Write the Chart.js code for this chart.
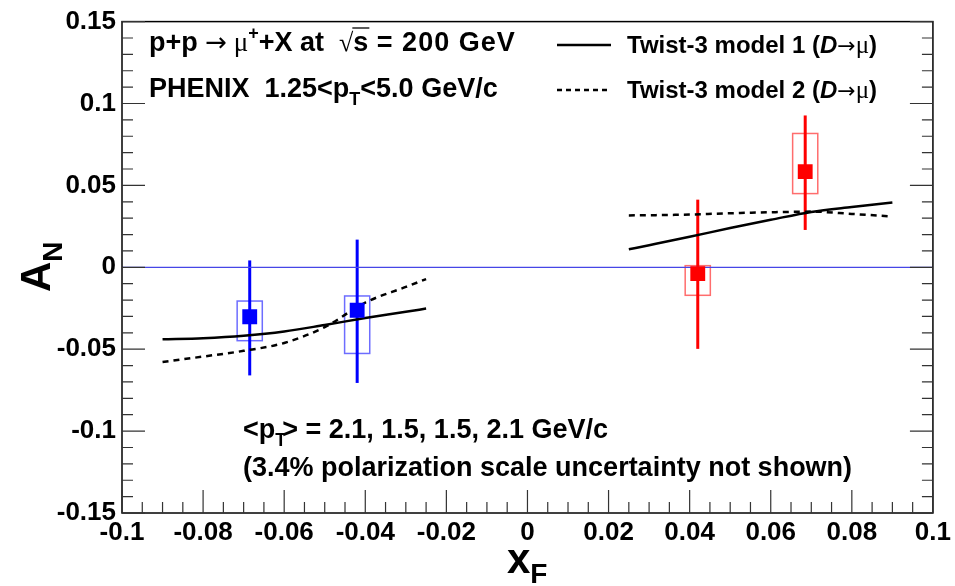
<!DOCTYPE html>
<html>
<head>
<meta charset="utf-8">
<script src="https://cdn.jsdelivr.net/npm/chart.js@4.4.1/dist/chart.umd.min.js"></script>
<style>
    html, body { margin: 0; padding: 0; background: #fff; }
</style>
</head>
<body>
<canvas id="graficoAN" width="955" height="586"></canvas>
<script>
// ============================================================
// A_N vs x_F – PHENIX mu+ (heavy flavour) with twist-3 curves
// ============================================================

// --- data points (blue = backward, red = forward) ---
const xF     = [-0.0685, -0.042, 0.042, 0.0685];
const AN     = [-0.0302, -0.0262, -0.0039, 0.0584];
const statHi = [0.0042, 0.0169, 0.0413, 0.0927];
const statLo = [-0.0660, -0.0706, -0.0498, 0.0228];
const sysHi  = [-0.0206, -0.0175, 0.0010, 0.0817];
const sysLo  = [-0.0448, -0.0526, -0.0171, 0.0450];

// --- twist-3 model curves ---
const leftX    = [-0.09, -0.08, -0.07, -0.06, -0.05, -0.04, -0.03, -0.025];
const model1L  = [-0.0440, -0.0433, -0.0418, -0.0392, -0.0352, -0.0310, -0.0272, -0.0252];
const model2L  = [-0.0578, -0.0545, -0.0510, -0.0462, -0.0365, -0.0215, -0.0120, -0.0072];
const rightX   = [0.025, 0.03, 0.04, 0.05, 0.06, 0.07, 0.08, 0.09];
const model1R  = [0.0110, 0.0135, 0.0186, 0.0240, 0.0290, 0.0338, 0.0368, 0.0395];
const model2R  = [0.0317, 0.0318, 0.0322, 0.0330, 0.0336, 0.0340, 0.0326, 0.0310];

// --- axes ---
const xTicks      = [-0.1, -0.08, -0.06, -0.04, -0.02, 0, 0.02, 0.04, 0.06, 0.08, 0.1];
const xTickLabels = ["-0.1", "-0.08", "-0.06", "-0.04", "-0.02", "0", "0.02", "0.04", "0.06", "0.08", "0.1"];
const yTicks      = [-0.15, -0.1, -0.05, 0, 0.05, 0.1, 0.15];
const yTickLabels = ["-0.15", "-0.1", "-0.05", "0", "0.05", "0.1", "0.15"];

const pts = (xs, ys) => xs.map((x, i) => ({ x: x, y: ys[i] }));

const BLUE = "rgb(0,0,255)";
const RED = "rgb(255,0,0)";
const ptColor = xF.map(x => x < 0 ? BLUE : RED);
const boxColor = xF.map(x => x < 0 ? "rgba(60,60,255,0.75)" : "rgba(255,60,60,0.75)");
const BOX_HALF = 0.0031;   // half width of systematic box in x_F units
const FONT = '"Liberation Sans", Arial, Helvetica, sans-serif';
const SERIF = '"Liberation Serif", "Times New Roman", serif';
const ARROW = '"DejaVu Sans", sans-serif';

// draws a sequence of text pieces with different fonts
function runs(ctx, x, y, parts) {
    parts.forEach(p => {
        ctx.font = p.f;
        ctx.fillText(p.t, x, y + (p.dy || 0));
        x += ctx.measureText(p.t).width + (p.dx || 0);
    });
    return x;
}

const rootStyle = {
    id: "rootStyle",
    beforeDatasetsDraw(chart) {
        const { ctx, scales: { x, y } } = chart;
        ctx.save();
        // systematic boxes
        xF.forEach((v, i) => {
            const x0 = x.getPixelForValue(v - BOX_HALF), x1 = x.getPixelForValue(v + BOX_HALF);
            const y0 = y.getPixelForValue(sysHi[i]), y1 = y.getPixelForValue(sysLo[i]);
            ctx.strokeStyle = boxColor[i];
            ctx.lineWidth = 1.5;
            ctx.strokeRect(x0, y0, x1 - x0, y1 - y0);
        });
        // statistical error bars
        xF.forEach((v, i) => {
            const px = x.getPixelForValue(v);
            ctx.strokeStyle = ptColor[i];
            ctx.lineWidth = 3;
            ctx.beginPath();
            ctx.moveTo(px, y.getPixelForValue(statHi[i]));
            ctx.lineTo(px, y.getPixelForValue(statLo[i]));
            ctx.stroke();
        });
        ctx.restore();
    },
    afterDraw(chart) {
        const { ctx, chartArea: a, scales: { x, y } } = chart;
        ctx.save();

        // frame
        ctx.strokeStyle = "#000";
        ctx.lineWidth = 1.5;
        ctx.strokeRect(a.left, a.top, a.right - a.left, a.bottom - a.top);

        // inner ticks (left, right, bottom)
        ctx.lineWidth = 1.2;
        ctx.strokeStyle = "#333";
        ctx.beginPath();
        for (let k = -15; k <= 15; k++) {
            const py = y.getPixelForValue(k / 100);
            const len = k % 5 === 0 ? 23 : 11;
            ctx.moveTo(a.left, py); ctx.lineTo(a.left + len, py);
            ctx.moveTo(a.right, py); ctx.lineTo(a.right - len, py);
        }
        for (let k = -20; k <= 20; k++) {
            const px = x.getPixelForValue(k * 0.005);
            const len = k % 4 === 0 ? 23 : 11;
            ctx.moveTo(px, a.bottom); ctx.lineTo(px, a.bottom - len);
        }
        ctx.stroke();

        ctx.fillStyle = "#000";
        ctx.textBaseline = "alphabetic";
        ctx.textAlign = "left";
        const B27 = "bold 27px " + FONT;
        const B18 = "bold 18px " + FONT;

        // top-left annotations
        let cx = runs(ctx, 149, 51, [
            { t: "p+p ", f: B27 },
            { t: "\u2192", f: "26px " + ARROW },
            { t: " \u03bc", f: "27px " + SERIF },
            { t: "+", f: B18, dy: -12 },
            { t: "+X at  ", f: B27 }
        ]);
        // sqrt(s)
        ctx.font = "26px " + SERIF;
        ctx.fillText("\u221a", cx, 51);
        cx += ctx.measureText("\u221a").width;
        ctx.font = B27;
        ctx.fillText("s", cx, 51);
        const sw = ctx.measureText("s").width;
        ctx.lineWidth = 1.3;
        ctx.strokeStyle = "#000";
        ctx.beginPath(); ctx.moveTo(cx - 1, 28); ctx.lineTo(cx + sw + 1, 28); ctx.stroke();
        ctx.save();
        ctx.letterSpacing = "1px";
        ctx.fillText(" = 200 GeV", cx + sw, 51);
        ctx.restore();

        runs(ctx, 149, 97, [
            { t: "PHENIX  1.25<p", f: B27 },
            { t: "T", f: B18, dy: 8 },
            { t: "<5.0 GeV/c", f: B27 }
        ]);

        // bottom annotations
        runs(ctx, 243, 438, [
            { t: "<p", f: B27 },
            { t: "T", f: B18, dy: 8, dx: -4 },
            { t: "> = 2.1, 1.5, 1.5, 2.1 GeV/c", f: B27 }
        ]);
        ctx.font = B27;
        ctx.fillText("(3.4% polarization scale uncertainty not shown)", 243, 476);

        // legend
        const B24 = "bold 24px " + FONT;
        const legend = [{ y: 45, dash: [] , label: "1" }, { y: 90, dash: [5, 4], label: "2" }];
        legend.forEach(l => {
            ctx.strokeStyle = "#000";
            ctx.lineWidth = 2.5;
            ctx.setLineDash(l.dash);
            ctx.beginPath(); ctx.moveTo(557, l.y); ctx.lineTo(611, l.y); ctx.stroke();
            ctx.setLineDash([]);
            runs(ctx, 627, l.y + 8, [
                { t: "Twist-3 model " + l.label + " (", f: B24 },
                { t: "D", f: "italic bold 24px " + FONT },
                { t: "\u2192", f: "22px " + ARROW },
                { t: "\u03bc", f: "25px " + SERIF },
                { t: ")", f: B24 }
            ]);
        });

        // axis titles
        ctx.save();
        ctx.translate(50, 292);
        ctx.rotate(-Math.PI / 2);
        runs(ctx, 0, 0, [
            { t: "A", f: "bold 42px " + FONT },
            { t: "N", f: "bold 28px " + FONT, dy: 12 }
        ]);
        ctx.restore();
        runs(ctx, 507, 573, [
            { t: "x", f: "bold 42px " + FONT },
            { t: "F", f: "bold 28px " + FONT, dy: 10 }
        ]);

        ctx.restore();
    }
};

const ctx = document.getElementById("graficoAN").getContext("2d");

new Chart(ctx, {
    type: "scatter",
    data: {
        datasets: [
            {
                label: "PHENIX",
                data: pts(xF, AN),
                pointStyle: "rect",
                pointRadius: 10.5,
                pointBorderWidth: 0,
                backgroundColor: ptColor,
                borderColor: ptColor
            },
            { label: "model 1 L", data: pts(leftX, model1L), showLine: true, pointRadius: 0, borderColor: "#000", borderWidth: 2.5, cubicInterpolationMode: "monotone" },
            { label: "model 1 R", data: pts(rightX, model1R), showLine: true, pointRadius: 0, borderColor: "#000", borderWidth: 2.5, cubicInterpolationMode: "monotone" },
            { label: "model 2 L", data: pts(leftX, model2L), showLine: true, pointRadius: 0, borderColor: "#000", borderWidth: 2.5, borderDash: [6, 5], cubicInterpolationMode: "monotone" },
            { label: "model 2 R", data: pts(rightX, model2R), showLine: true, pointRadius: 0, borderColor: "#000", borderWidth: 2.5, borderDash: [6, 5], cubicInterpolationMode: "monotone" },
            { label: "zero", data: [{ x: -0.1, y: 0 }, { x: 0.1, y: 0 }], showLine: true, pointRadius: 0, borderColor: "rgb(70,70,230)", borderWidth: 1.2 }
        ]
    },
    options: {
        responsive: false,
        animation: false,
        layout: { padding: { top: 17, right: 21, left: 0, bottom: 0 } },
        plugins: { legend: { display: false }, tooltip: { enabled: false } },
        scales: {
            x: {
                type: "linear", min: -0.1, max: 0.1,
                grid: { display: false, drawTicks: false },
                border: { display: false },
                afterBuildTicks: s => { s.ticks = xTicks.map(v => ({ value: v })); },
                afterFit: s => { s.height = 73; },
                ticks: {
                    autoSkip: false, maxRotation: 0, padding: 4, color: "#000",
                    font: { family: FONT, size: 26, weight: "bold" },
                    callback: (v, i) => xTickLabels[i]
                }
            },
            y: {
                type: "linear", min: -0.15, max: 0.15,
                grid: { display: false, drawTicks: false },
                border: { display: false },
                afterBuildTicks: s => { s.ticks = yTicks.map(v => ({ value: v })); },
                afterFit: s => { s.width = 122; },
                ticks: {
                    autoSkip: false, padding: 6, color: "#000",
                    font: { family: FONT, size: 26, weight: "bold" },
                    callback: (v, i) => yTickLabels[i]
                }
            }
        }
    },
    plugins: [rootStyle]
});
</script>
</body>
</html>
